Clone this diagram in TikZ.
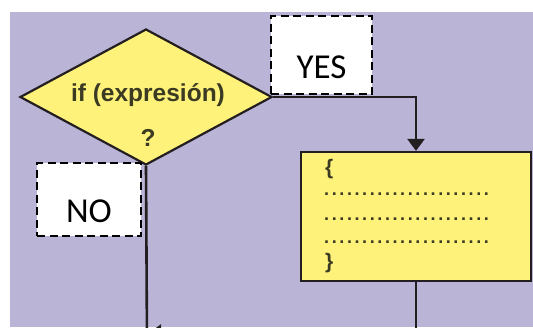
\documentclass[tikz,border=0pt]{standalone}
\usepackage{fontspec}
\setmainfont{Liberation Sans}
\newfontfamily\labelfont{Carlito}
\usetikzlibrary{arrows.meta,positioning,shapes.geometric}
\definecolor{panel}{HTML}{BAB4D7}
\definecolor{boxfill}{HTML}{FFF27A}
\definecolor{ink}{HTML}{231F20}
\definecolor{codeink}{HTML}{3B3A22}
\newcommand\dotrow{\foreach \k in {1,...,22}{.\hspace{2.6pt}}}

\begin{document}
\begin{tikzpicture}[x=1pt,y=-1pt,
  cond/.style={diamond, draw=ink, line width=2.2pt, fill=boxfill,
    minimum width=252pt, minimum height=136pt, inner sep=0pt},
  codebox/.style={rectangle, draw=ink, line width=2.2pt, fill=boxfill,
    minimum width=230pt, minimum height=129pt, inner sep=0pt},
  condtext/.style={font=\fontsize{24.5}{26}\selectfont\bfseries, text=codeink},
  codetext/.style={font=\fontsize{18}{19}\selectfont\bfseries, text=codeink, inner sep=0pt,
    text height=4pt, text depth=0pt},
  bracetext/.style={font=\fontsize{21}{22}\selectfont\bfseries, text=codeink, inner sep=0pt,
    text height=13pt, text depth=3pt},
  answer/.style={draw=black, dash pattern=on 8pt off 4.5pt, line width=2.6pt, fill=white,
    inner sep=0pt, text height=46pt, text depth=0pt,
    font=\labelfont\fontsize{35}{40}\selectfont},
  flow/.style={draw=ink, line width=2.6pt},
  tip/.style={-{Triangle[width=17pt,length=12pt]}}]
  \useasboundingbox (0,0) rectangle (533,327);
  \clip (0,0) rectangle (533,327);
  \fill[white] (0,0) rectangle (533,327);
  \fill[panel] (10,12) rectangle (533,327);

  % Condition
  \node[cond] (cond) at (146,97) {};
  \node[condtext] (condq) at (148,95) {if (expresión)};
  \node[condtext] (mark) at (148,138) {?};

  % Block
  \node[codebox] (code) at (416,216.5) {};
  \node[bracetext, anchor=west] (open) at (325,169) {\{};
  \foreach \y [count=\i] in {195.5,220,243} {
    \node[codetext, anchor=base west] (row\i) at (324,\y) {\dotrow};
  }
  \node[bracetext, anchor=west] (close) at (325,263) {\}};

  % Connectors
  \coordinate (exit) at (147,345);
  \coordinate (meet) at (149,333);
  \draw[flow, tip] (cond.east) -| (code.north);
  \draw[flow] (cond.south) -- (exit);
  \draw[flow, tip] (code.south) |- (meet);

  % Answers
  \node[answer, minimum width=101pt, minimum height=78pt] (yes) at (321.5,55) {YES};
  \node[answer, minimum width=104pt, minimum height=73pt] (no) at (89,199.5) {NO};
\end{tikzpicture}
\end{document}
